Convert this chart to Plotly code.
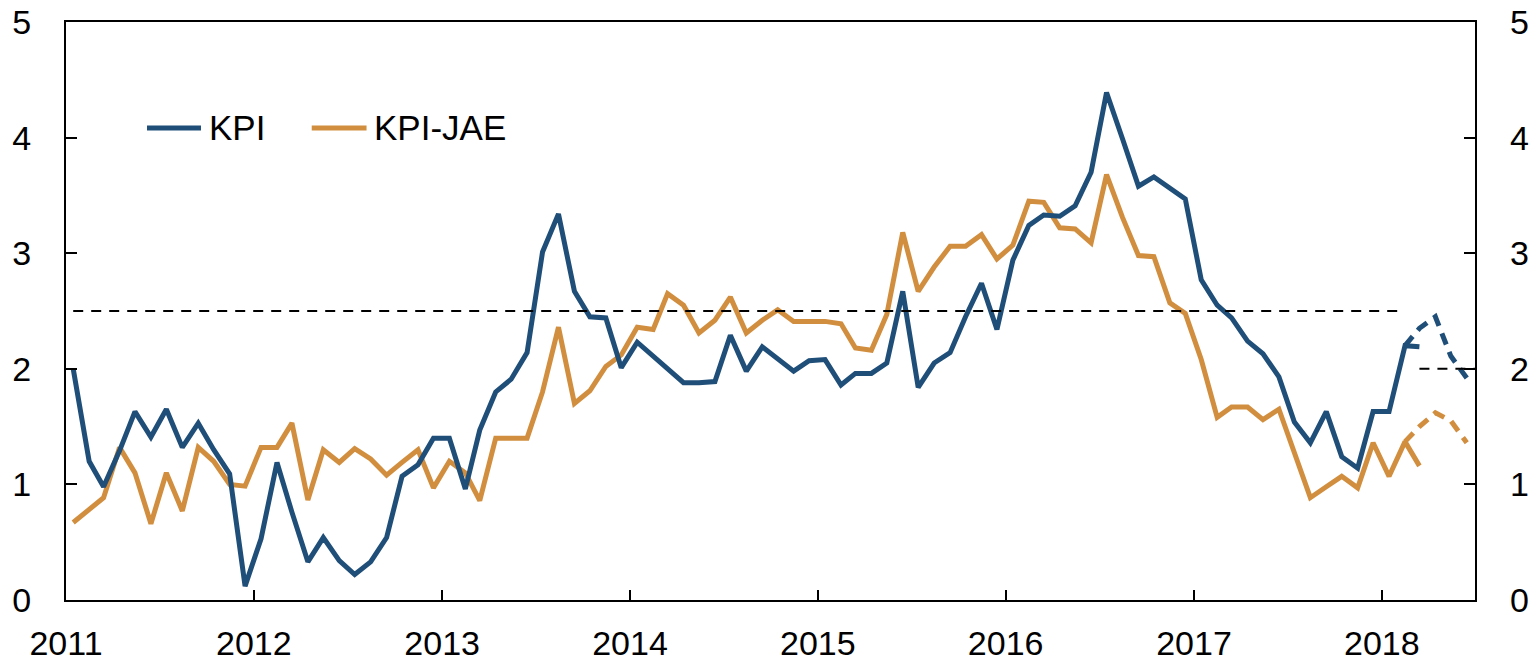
import pandas as pd
import plotly.graph_objects as go

# ---- data ----
kpi = [2.00, 1.20, 0.98, 1.29, 1.63, 1.41, 1.65, 1.32, 1.53, 1.30, 1.09, 0.12,
       0.53, 1.19, 0.76, 0.33, 0.54, 0.34, 0.22, 0.33, 0.54, 1.07, 1.17, 1.40,
       1.40, 0.96, 1.47, 1.80, 1.91, 2.14, 3.01, 3.34, 2.67, 2.45, 2.44, 2.01,
       2.23, 2.11, 2.00, 1.88, 1.88, 1.89, 2.29, 1.98, 2.19, 2.08, 1.98, 2.07,
       2.08, 1.86, 1.96, 1.96, 2.05, 2.67, 1.84, 2.05, 2.14, 2.45, 2.74, 2.34,
       2.94, 3.24, 3.33, 3.32, 3.41, 3.70, 4.39, 3.99, 3.58, 3.66, 3.56, 3.47,
       2.77, 2.55, 2.44, 2.24, 2.13, 1.93, 1.54, 1.36, 1.63, 1.24, 1.14, 1.63,
       1.63, 2.20, 2.19]
kpi_jae = [0.67, 0.78, 0.885, 1.32, 1.10, 0.66, 1.10, 0.77, 1.32, 1.20, 1.00, 0.985,
           1.32, 1.32, 1.53, 0.865, 1.30, 1.19, 1.31, 1.22, 1.08, 1.19, 1.30, 0.97,
           1.20, 1.10, 0.86, 1.40, 1.40, 1.40, 1.80, 2.36, 1.70, 1.81, 2.02, 2.12,
           2.36, 2.34, 2.65, 2.55, 2.31, 2.42, 2.62, 2.31, 2.42, 2.51, 2.41, 2.41,
           2.41, 2.39, 2.18, 2.16, 2.47, 3.18, 2.67, 2.88, 3.06, 3.06, 3.16, 2.95,
           3.07, 3.45, 3.44, 3.22, 3.21, 3.09, 3.68, 3.31, 2.98, 2.97, 2.57, 2.48,
           2.08, 1.58, 1.67, 1.67, 1.56, 1.65, 1.26, 0.885, 0.98, 1.07, 0.97, 1.36,
           1.07, 1.37, 1.16]
months = [d.strftime("%Y-%m-15") for d in pd.date_range("2011-01-01", periods=len(kpi), freq="MS")]

fc_months = ["2018-02-15", "2018-03-15", "2018-04-15", "2018-05-15", "2018-06-15"]
kpi_fc = [2.20, 2.35, 2.45, 2.11, 1.92]
jae_fc = [1.37, 1.50, 1.62, 1.55, 1.36]

target_old_x = ["2011-01-15", "2018-02-15"]
target_old_y = [2.5, 2.5]
target_new_x = ["2018-03-15", "2018-07-01"]
target_new_y = [2.0, 2.0]

tick_years = [f"{y}-01-01" for y in range(2011, 2019)]
tick_labels = [str(y) for y in range(2011, 2019)]

BLUE = "#1F4E79"
ORANGE = "#D28E3F"
FONT = "Arial, Liberation Sans, sans-serif"
LW = 5

fig = go.Figure()
fig.add_trace(go.Scatter(x=target_old_x, y=target_old_y, mode="lines", yaxis="y2",
                         line=dict(color="black", width=2, dash="10px,8px"), showlegend=False))
fig.add_trace(go.Scatter(x=target_new_x, y=target_new_y, mode="lines", yaxis="y2",
                         line=dict(color="black", width=2, dash="10px,8px"), showlegend=False))
fig.add_trace(go.Scatter(x=fc_months, y=kpi_fc, mode="lines",
                         line=dict(color=BLUE, width=LW, dash="12px,8px"), showlegend=False))
fig.add_trace(go.Scatter(x=fc_months, y=jae_fc, mode="lines",
                         line=dict(color=ORANGE, width=LW, dash="12px,8px"), showlegend=False))
fig.add_trace(go.Scatter(x=months, y=kpi_jae, mode="lines", name="KPI-JAE",
                         line=dict(color=ORANGE, width=LW), showlegend=False))
fig.add_trace(go.Scatter(x=months, y=kpi, mode="lines", name="KPI",
                         line=dict(color=BLUE, width=LW), showlegend=False))

# manual legend (long line samples as in the original)
legend_items = [("KPI", BLUE, 0.0575, 0.0958, 0.0999), ("KPI-JAE", ORANGE, 0.1744, 0.2133, 0.2170)]
for name, col, x0, x1, xt in legend_items:
    fig.add_shape(type="line", xref="paper", yref="paper", x0=x0, x1=x1, y0=0.8167, y1=0.8167,
                  line=dict(color=col, width=LW))
    fig.add_annotation(text=name, xref="paper", yref="paper", x=xt, y=0.8167,
                       xanchor="left", yanchor="middle", showarrow=False,
                       font=dict(family=FONT, size=35, color="black"))

axis_font = dict(family=FONT, size=34, color="black")
fig.update_layout(
    width=1536, height=662,
    margin=dict(l=66, r=61, t=22, b=62, autoexpand=False),
    plot_bgcolor="white", paper_bgcolor="white",
    showlegend=False,
    xaxis=dict(type="date", range=["2011-01-01", "2018-07-01"], automargin=False,
               tickvals=tick_years, ticktext=tick_labels,
               ticks="inside", ticklen=10, tickwidth=1.5, tickcolor="black",
               showline=True, linecolor="black", linewidth=2, mirror=True,
               showgrid=False, zeroline=False, tickfont=axis_font, ticklabelstandoff=12),
    yaxis=dict(range=[0, 5], tickvals=[0, 1, 2, 3, 4, 5], automargin=False,
               ticks="inside", ticklen=11, tickwidth=1.5, tickcolor="black",
               showline=True, linecolor="black", linewidth=2, mirror="ticks",
               showgrid=False, zeroline=False, tickfont=axis_font, ticklabelstandoff=26),
    yaxis2=dict(range=[0, 5], tickvals=[0, 1, 2, 3, 4, 5], overlaying="y", side="right",
                automargin=False,
                ticks="", showline=False, showgrid=False, zeroline=False,
                tickfont=axis_font, ticklabelstandoff=34),
)

fig.write_html("out.html", config={"displayModeBar": False},
               post_script="document.body.style.margin='0';document.body.style.overflow='hidden';")
